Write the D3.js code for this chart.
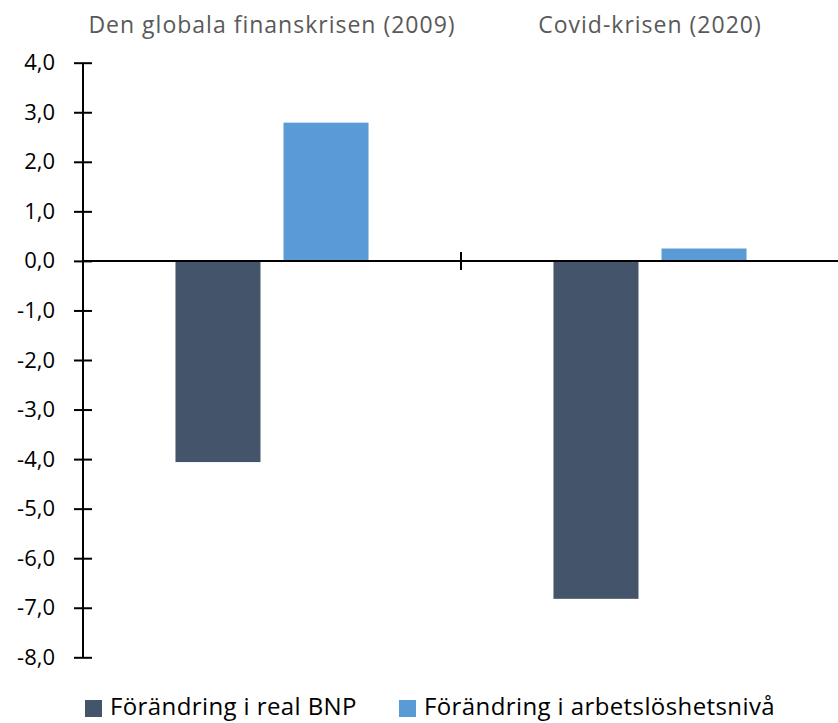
<!DOCTYPE html>
<html><head><meta charset="utf-8">
<script src="https://cdn.jsdelivr.net/npm/d3@7"></script>
<style>body{margin:0;background:#fff}svg{display:block}text{font-family:"Open Sans","Liberation Sans",Arial,sans-serif}</style>
</head><body><svg id="c" width="838" height="723"></svg>
<script>
const categories = ["Den globala finanskrisen (2009)", "Covid-krisen (2020)"];
const seriesNames = ["Förändring i real BNP", "Förändring i arbetslöshetsnivå"];
const bnp = [-4.06, -6.82];
const arbetsloshet = [2.79, 0.25];
const yTicks = [4, 3, 2, 1, 0, -1, -2, -3, -4, -5, -6, -7, -8];
const colors = ["#44546A", "#5B9BD5"];

(function(){
const svg = d3.select("#c");
const mLeft = 83, mRight = 839, mTop = 62.7, mBottom = 657.3;
const y = d3.scaleLinear().domain([-8, 4]).range([mBottom, mTop]);
const x0 = d3.scaleBand().domain(categories).range([mLeft, mRight]).paddingInner(0).paddingOuter(0);
const x1 = d3.scaleBand().domain([0, 1]).range([0, x0.bandwidth()]).paddingInner(0.213).paddingOuter(0.856);

const data = categories.map((c, i) => ({cat: c, vals: [bnp[i], arbetsloshet[i]]}));

const g = svg.append("g");
data.forEach(d => {
  d.vals.forEach((v, j) => {
    g.append("rect")
      .attr("x", x0(d.cat) + x1(j))
      .attr("width", x1.bandwidth())
      .attr("y", y(Math.max(0, v)))
      .attr("height", Math.abs(y(v) - y(0)))
      .attr("fill", colors[j]);
  });
});

const yAxis = d3.axisLeft(y).tickValues(yTicks).tickSize(9).tickPadding(19)
  .tickFormat(d => d3.format(".1f")(d).replace(".", ",").replace("−", "-"));
const ya = svg.append("g").attr("transform", `translate(${mLeft},0)`).call(yAxis);
ya.select(".domain").remove();
ya.selectAll(".tick line").attr("x1", -9).attr("x2", 9).attr("stroke", "#000").attr("stroke-width", 2);
ya.append("line").attr("x1", 0).attr("x2", 0).attr("y1", mTop).attr("y2", mBottom).attr("stroke", "#000").attr("stroke-width", 2);
ya.selectAll(".tick text").attr("font-size", 22).attr("fill", "#000").attr("font-family", "Open Sans, Liberation Sans, Arial, sans-serif");

svg.append("line").attr("x1", mLeft).attr("x2", mRight).attr("y1", y(0)).attr("y2", y(0)).attr("stroke", "#000").attr("stroke-width", 2);
svg.append("line").attr("x1", x0(categories[1])).attr("x2", x0(categories[1])).attr("y1", y(0) - 9).attr("y2", y(0) + 9).attr("stroke", "#000").attr("stroke-width", 2);

svg.selectAll("text.cat").data(categories).enter().append("text")
  .attr("class", "cat")
  .attr("x", d => x0(d) + x0.bandwidth() / 2)
  .attr("y", 33)
  .attr("text-anchor", "middle")
  .attr("font-size", 23)
  .attr("letter-spacing", 1)
  .attr("fill", "#595959")
  .text(d => d);

const legX = [85, 399];
seriesNames.forEach((n, i) => {
  svg.append("rect").attr("x", legX[i]).attr("y", 700).attr("width", 17).attr("height", 17).attr("fill", colors[i]);
  svg.append("text").attr("x", legX[i] + 25).attr("y", 715).attr("font-size", 24)
    .attr("letter-spacing", 0.4).attr("fill", "#000").text(n);
});
})();
</script></body></html>
